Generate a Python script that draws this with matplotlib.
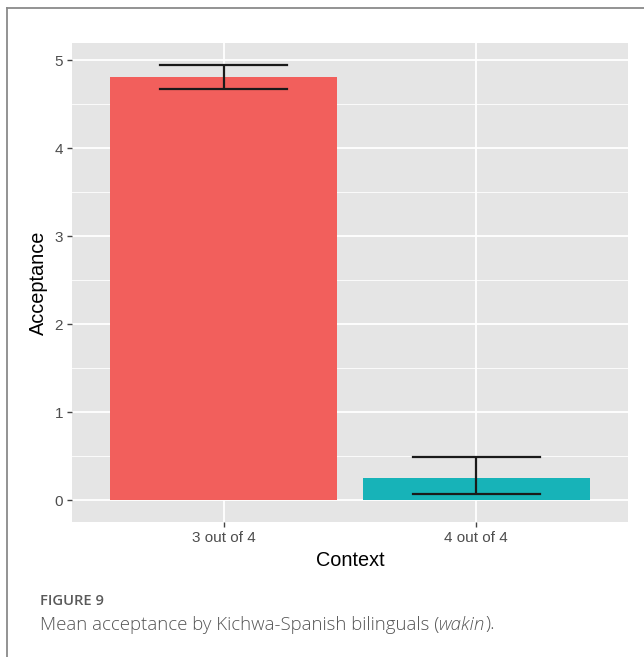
import matplotlib
matplotlib.use("Agg")
import matplotlib.pyplot as plt
from matplotlib.lines import Line2D
from matplotlib.ticker import MultipleLocator

# Data
contexts = ["3 out of 4", "4 out of 4"]
mean_acceptance = [4.81, 0.25]
err_low = [4.67, 0.07]
err_high = [4.95, 0.49]
bar_colors = ["#F25F5C", "#17B3B8"]

W, H = 644, 657
fig = plt.figure(figsize=(W / 100, H / 100), dpi=100)
fig.patch.set_facecolor("white")

# Page frame (left and top rules)
fig.add_artist(Line2D([7 / W, 7 / W], [0, 1 - 8 / H], transform=fig.transFigure,
                      color="#8a8a8a", lw=1.3))
fig.add_artist(Line2D([7 / W, 1], [1 - 8 / H, 1 - 8 / H], transform=fig.transFigure,
                      color="#8a8a8a", lw=1.3))

# Panel placement in pixels
left, right, top, bottom = 72, 628, 43, 522
ax = fig.add_axes([left / W, 1 - bottom / H, (right - left) / W, (bottom - top) / H])
ax.set_facecolor("#E5E5E5")

x = list(range(1, len(contexts) + 1))
ax.bar(x, mean_acceptance, width=0.9, color=bar_colors, zorder=3)

for xi, lo, hi in zip(x, err_low, err_high):
    ax.plot([xi, xi], [lo, hi], color="#1a1a1a", lw=1.6, zorder=4, solid_capstyle="butt")
    ax.plot([xi - 0.25, xi + 0.25], [lo, lo], color="#1a1a1a", lw=1.6, zorder=4)
    ax.plot([xi - 0.25, xi + 0.25], [hi, hi], color="#1a1a1a", lw=1.6, zorder=4)

ymax = max(err_high)
pad = 0.05 * ymax
ax.set_ylim(-pad, ymax + pad)
ax.set_xlim(0.4, 2.6)

ax.set_xticks(x)
ax.set_xticklabels(contexts)
ax.yaxis.set_major_locator(MultipleLocator(1))
ax.yaxis.set_minor_locator(MultipleLocator(0.5))

ax.grid(True, which="major", color="white", lw=1.3, zorder=1)
ax.grid(True, which="minor", axis="y", color="white", lw=0.6, zorder=1)
ax.set_axisbelow(True)
for s in ax.spines.values():
    s.set_visible(False)

font = ["Liberation Sans", "DejaVu Sans"]
ax.tick_params(axis="both", which="major", length=3.5, width=1.0, color="#444444",
               labelcolor="#4d4d4d", labelsize=11, pad=3)
ax.tick_params(axis="both", which="minor", length=0)
for lab in ax.get_xticklabels() + ax.get_yticklabels():
    lab.set_fontfamily(font)

ax.set_xlabel("Context", fontsize=14.3, family=font, color="black", labelpad=4)
ax.set_ylabel("Acceptance", fontsize=14.3, family=font, color="black", labelpad=5)

# Caption
cap_font = ["Open Sans", "DejaVu Sans"]
fig.text(40 / W, 1 - 601 / H, "FIGURE 9", fontsize=10.6, family=cap_font,
         color="#5a5a5a", fontweight="semibold", va="center", ha="left")
cap_y = 1 - 624.5 / H
t1 = fig.text(40 / W, cap_y, "Mean acceptance by Kichwa-Spanish bilinguals (",
              fontsize=13.4, family=cap_font, color="#555555", va="center", ha="left",
              fontweight="light")
renderer = fig.canvas.get_renderer()
bb = t1.get_window_extent(renderer)
t2 = fig.text(bb.x1 / W, cap_y, "wakin", fontsize=13.4, family=cap_font,
              color="#555555", va="center", ha="left", style="italic", fontweight="light")
bb2 = t2.get_window_extent(renderer)
fig.text(bb2.x1 / W, cap_y, ").", fontsize=13.4, family=cap_font,
         color="#555555", va="center", ha="left", fontweight="light")

fig.savefig("out.png", dpi=100, facecolor="white")
